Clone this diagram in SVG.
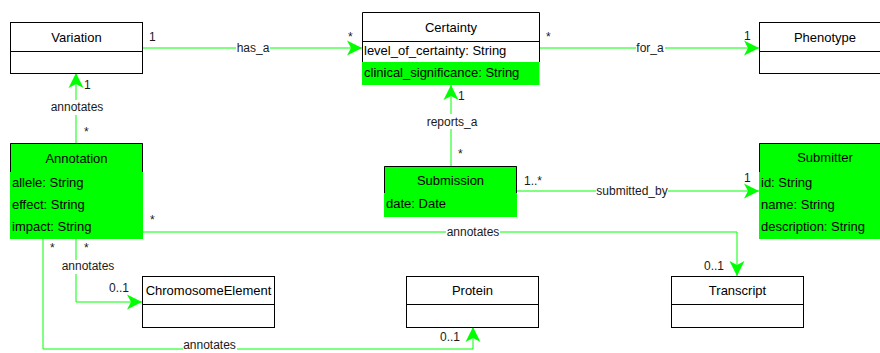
<svg xmlns="http://www.w3.org/2000/svg" width="880" height="353" viewBox="0 0 880 353">
  <defs>
    <marker id="arrow" viewBox="0 0 16 16" markerWidth="16" markerHeight="16" refX="15" refY="7.5" orient="auto" markerUnits="userSpaceOnUse" overflow="visible">
      <path d="M0,0 L15,7.5 L0,15 L4,7.5 Z" fill="#00FF00"/>
    </marker>
    <style>
      .box { fill: #ffffff; stroke: #000000; stroke-width: 1; }
      .line { fill: none; stroke: #000000; stroke-width: 1; }
      .filled { fill: #00FF00; stroke: none; }
      .title { font-family: "Liberation Sans", Arial, sans-serif; font-size: 13px; fill: #000000; text-anchor: middle; }
      .attr { font-family: "Liberation Sans", Arial, sans-serif; font-size: 13px; fill: #000000; }
      .edge { fill: none; stroke: #00FF00; stroke-width: 1; }
      .lbl { font-family: "Liberation Sans", Arial, sans-serif; font-size: 12px; fill: #1a1a1a; }
      .mid { text-anchor: middle; }
      .lblbg { fill: #ffffff; }
    </style>
  </defs>

  <!-- associations -->
  <g id="connectors">
    <path class="edge" d="M142,48 L362,48" marker-end="url(#arrow)"/>
    <path class="edge" d="M539,48 L759,48" marker-end="url(#arrow)"/>
    <path class="edge" d="M76,143 L76,73" marker-end="url(#arrow)"/>
    <path class="edge" d="M451,166 L451,85" marker-end="url(#arrow)"/>
    <path class="edge" d="M517,191 L759,191" marker-end="url(#arrow)"/>
    <path class="edge" d="M143,232 L737,232 L737,276" marker-end="url(#arrow)"/>
    <path class="edge" d="M76,239 L76,302 L142,302" marker-end="url(#arrow)"/>
    <path class="edge" d="M43,239 L43,349 L473,349 L473,327" marker-end="url(#arrow)"/>

    <!-- association names -->
    <rect class="lblbg" x="236" y="42" width="34" height="12"/>
    <text class="lbl mid" x="253" y="52">has_a</text>
    <rect class="lblbg" x="636" y="42" width="29" height="12"/>
    <text class="lbl mid" x="650" y="52">for_a</text>
    <rect class="lblbg" x="50" y="100" width="54" height="15"/>
    <text class="lbl mid" x="77" y="111">annotates</text>
    <rect class="lblbg" x="426" y="114" width="52" height="15"/>
    <text class="lbl mid" x="452" y="126">reports_a</text>
    <rect class="lblbg" x="596" y="185" width="72" height="13"/>
    <text class="lbl mid" x="632" y="195">submitted_by</text>
    <rect class="lblbg" x="446" y="226" width="54" height="12"/>
    <text class="lbl mid" x="473" y="236">annotates</text>
    <rect class="lblbg" x="61" y="260" width="54" height="14"/>
    <text class="lbl mid" x="88" y="270">annotates</text>
    <rect class="lblbg" x="183" y="340" width="54" height="13"/>
    <text class="lbl mid" x="209.5" y="349">annotates</text>

    <!-- multiplicities -->
    <text class="lbl" x="149" y="41">1</text>
    <text class="lbl" x="348" y="41">*</text>
    <text class="lbl" x="546" y="41">*</text>
    <text class="lbl" x="744" y="40">1</text>
    <text class="lbl" x="84" y="89">1</text>
    <text class="lbl" x="84" y="136">*</text>
    <text class="lbl" x="458" y="100">1</text>
    <text class="lbl" x="458" y="158">*</text>
    <text class="lbl" x="524" y="185">1..*</text>
    <text class="lbl" x="744" y="182">1</text>
    <text class="lbl" x="150" y="224">*</text>
    <text class="lbl" x="704" y="270">0..1</text>
    <text class="lbl" x="84" y="252">*</text>
    <text class="lbl" x="50" y="252">*</text>
    <text class="lbl" x="109" y="292">0..1</text>
    <text class="lbl" x="440" y="341">0..1</text>
  </g>

  <g id="variation">
    <rect class="box" x="10.5" y="22.5" width="132" height="51"/>
    <path class="line" d="M10.5,51.5 H142.5"/>
    <text class="title" x="76.5" y="42">Variation</text>
  </g>

  <g id="certainty">
    <rect class="filled" x="362" y="62" width="177.5" height="23"/>
    <path class="line" d="M362.5,62 V12.5 H539.5 V62"/>
    <path class="line" d="M362.5,41.5 H539.5"/>
    <text class="title" x="451" y="32">Certainty</text>
    <text class="attr" x="364" y="55">level_of_certainty: String</text>
    <text class="attr" x="364" y="77">clinical_significance: String</text>
  </g>

  <g id="phenotype">
    <rect class="box" x="759.5" y="22.5" width="132" height="51"/>
    <path class="line" d="M759.5,51.5 H891.5"/>
    <text class="title" x="825" y="42">Phenotype</text>
  </g>

  <g id="annotation">
    <rect class="filled" x="10" y="143" width="133" height="96"/>
    <path class="line" d="M10.5,172 V143.5 H142.5 V172"/>
    <text class="title" x="76.5" y="163">Annotation</text>
    <text class="attr" x="12" y="187">allele: String</text>
    <text class="attr" x="12" y="209">effect: String</text>
    <text class="attr" x="12" y="231">impact: String</text>
  </g>

  <g id="submission">
    <rect class="filled" x="384" y="166" width="133" height="51"/>
    <path class="line" d="M384.5,193 V166.5 H516.5 V193"/>
    <text class="title" x="450.5" y="185">Submission</text>
    <text class="attr" x="386" y="208">date: Date</text>
  </g>

  <g id="submitter">
    <rect class="filled" x="759" y="143" width="132" height="96"/>
    <path class="line" d="M759.5,172 V143.5 H891.5 V172"/>
    <text class="title" x="825" y="162">Submitter</text>
    <text class="attr" x="761" y="187">id: String</text>
    <text class="attr" x="761" y="209">name: String</text>
    <text class="attr" x="761" y="231">description: String</text>
  </g>

  <g id="chromosome-element">
    <rect class="box" x="142.5" y="276.5" width="132" height="51"/>
    <path class="line" d="M142.5,304.5 H274.5"/>
    <text class="title" x="208.5" y="295">ChromosomeElement</text>
  </g>

  <g id="protein">
    <rect class="box" x="406.5" y="276.5" width="132" height="51"/>
    <path class="line" d="M406.5,304.5 H538.5"/>
    <text class="title" x="472.5" y="295">Protein</text>
  </g>

  <g id="transcript">
    <rect class="box" x="671.5" y="276.5" width="132" height="51"/>
    <path class="line" d="M671.5,304.5 H803.5"/>
    <text class="title" x="737.5" y="295">Transcript</text>
  </g>
</svg>
